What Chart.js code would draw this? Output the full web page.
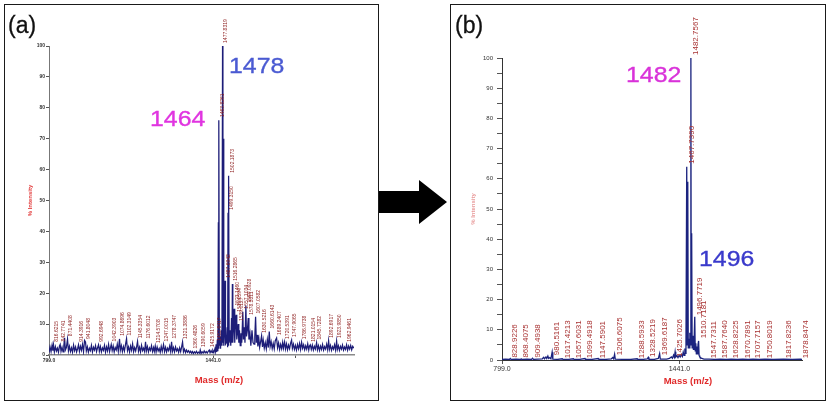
<!DOCTYPE html>
<html>
<head>
<meta charset="utf-8">
<script src="https://cdn.jsdelivr.net/npm/chart.js@4.4.1/dist/chart.umd.min.js"></script>
<style>
  body { margin: 0; background: #fff; width: 828px; height: 404px; position: relative; overflow: hidden;
         font-family: "Liberation Sans", Arial, sans-serif; }
  .panel { position: absolute; border: 1px solid #1a1a1a; box-sizing: border-box; }
  .panel canvas { position: absolute; left: 0; top: 0; }
  .tag { position: absolute; white-space: nowrap; font-size: 23px; line-height: 23px; color: #111; -webkit-text-stroke: 0.3px #111; }
  .big { position: absolute; white-space: nowrap; font-size: 22px; line-height: 22px; transform: scaleX(1.13); transform-origin: 0 0;
         -webkit-text-stroke: 0.35px currentColor; }
  .xtitle { position: absolute; width: 80px; text-align: center; font: bold 9.5px "Liberation Sans Narrow", "Liberation Sans", sans-serif;
            line-height: 12px; color: #e02a2a; }
</style>
</head>
<body>

<div class="panel" style="left:4px;top:4px;width:375px;height:397px;"><canvas id="chartA" width="373" height="395"></canvas></div>
<div class="panel" style="left:450px;top:4px;width:376px;height:397px;"><canvas id="chartB" width="374" height="395"></canvas></div>

<svg style="position:absolute;left:0;top:0" width="828" height="404">
  <polygon points="379,191 419,191 419,180 447,202 419,224 419,213 379,213" fill="#000"/>
</svg>

<div class="tag" style="left:8px;top:14px;">(a)</div>
<div class="tag" style="left:455px;top:14px;">(b)</div>

<div class="big" style="left:150px;top:108px;color:#e034e0;">1464</div>
<div class="big" style="left:229px;top:55px;color:#4a5ad2;">1478</div>
<div class="big" style="left:626px;top:64px;color:#d932d9;">1482</div>
<div class="big" style="left:699px;top:248px;color:#3a3acb;">1496</div>

<div class="xtitle" style="left:179px;top:374px;">Mass (m/z)</div>
<div class="xtitle" style="left:648px;top:375px;">Mass (m/z)</div>

<script>
// ---- spectrum (a): [m/z, % intensity]
const specA_low = [
  [799,0.8],[803,2.6],[807,1.1],[811,3.2],[814,1.4],[816.6215,3.3],[820,1.0],[824,2.7],[828,1.3],[832,2.2],
  [836,0.9],[840,2.9],[842.7741,3.4],[846,1.2],[850,2.5],[854,1.0],[857,3.0],[860,5.6],[863,1.6],[867,2.4],
  [871.4408,5.1],[875,1.3],[879,2.8],[883,1.1],[887,2.3],[891,0.9],[895,3.2],[899,1.4],[903,2.6],[907,1.0],
  [911,2.1],[914.3916,3.3],[918,1.2],[922,2.8],[926,1.5],[930,3.4],[934,1.1],[938,4.7],[941.8048,4.2],[945,1.3],
  [949,2.6],[953,0.9],[957,2.2],[961,1.4],[965,3.1],[969,1.0],[973,2.5],[977,1.6],[981,3.0],[985,1.1],
  [989,2.4],[992.6948,3.3],[996,1.2],[1000,2.7],[1004,1.0],[1008,2.3],[1012,1.5],[1016,3.1],[1020,0.9],[1024,2.6],
  [1028,1.3],[1032,3.4],[1036,1.1],[1039,2.2],[1042.3903,3.4],[1046,1.4],[1050,2.9],[1054,1.0],[1058,2.4],[1062,1.6],
  [1066,3.5],[1070,1.2],[1074.8696,5.2],[1078,1.5],[1082,3.0],[1086,1.1],[1090,2.7],[1094,1.3],[1098,3.3],[1102.3149,5.3],
  [1106,1.4],[1110,2.6],[1114,1.0],[1118,2.9],[1122,1.5],[1126,3.6],[1130,1.1],[1134,2.4],[1138,1.3],[1142,2.8],
  [1145.3354,4.4],[1149,1.2],[1153,2.5],[1157,1.0],[1161,3.1],[1165,1.4],[1169,2.2],[1173,1.1],[1176.6012,4.3],[1180,1.3],
  [1184,2.7],[1188,1.0],[1192,2.3],[1196,1.5],[1200,3.0],[1204,1.1],[1208,2.4],[1211,1.2],[1214.5708,2.9],[1218,1.0],
  [1222,2.6],[1226,1.3],[1230,2.1],[1234,0.9],[1238,2.8],[1242,1.2],[1247.0015,3.4],[1251,1.1],[1255,2.5],[1259,1.0],
  [1263,2.2],[1267,1.4],[1271,2.9],[1275,1.1],[1278.3747,4.3],[1282,1.2],[1286,2.4],[1290,1.0],[1294,2.6],[1298,1.3],
  [1302,2.0],[1306,0.9],[1310,2.3],[1314,1.1],[1318,2.7],[1321.3886,4.2],[1325,1.0],[1329,1.9],[1333,0.8],[1337,1.6],
  [1341,0.9],[1345,1.4],[1349,0.7],[1353,1.2],[1357,0.6],[1360.4826,1.1],[1364,0.5],[1368,1.0],[1372,0.6],[1376,1.2],
  [1380,0.5],[1384,0.9],[1388,0.6],[1390.6059,1.6],[1394,0.5],[1398,1.0],[1402,0.6],[1406,1.3],[1410,0.7],[1414,1.1],
  [1418,0.6],[1422,1.2],[1425.9172,1.6],[1429,0.7],[1433,1.4],[1437,0.8]
];
const specA_cluster = [
  [1440,1.5],[1444,0.8],[1448,2.0],[1450.5,1.1],[1452.6417,3.5],[1455,1.0],[1457.5,5.0],[1459.5,1.2],[1461.4527,43],[1462.6,2.0],
  [1463.8261,76],[1465.4,3.0],[1468,6.0],[1470,2.0],[1473,8.0],[1475.5,3.0],[1477.8319,100],[1479.3,4.0],[1480.9,70],[1482.6,3.0],
  [1485,7.0],[1487.6942,24],[1489.4,3.5],[1493,4],[1496,9],[1497.7,2.5],[1499.315,46],[1500.8,3],[1502.1873,58],[1503.7,4],
  [1507,8],[1510,3],[1513,12],[1514.7,4],[1516.2865,23],[1518,4],[1520.5,9],[1523.146,15],[1525.5,4],[1528,10],
  [1531.0594,13],[1533.5,5],[1536,7],[1539.0127,10],[1541.5,4],[1544,8],[1547,3],[1550,7],[1553,4],[1557.1034,14],
  [1559.5,5],[1562.5,9],[1565.5,4],[1569.0928,16],[1571.5,6],[1575,8],[1578.3311,12],[1581,5],[1585,7],[1588.5,3],
  [1593,8],[1597,4]
];
const specA_high = [
  [1601,3.5],[1604,6.0],[1607.0582,12.4],[1610,4.0],[1613,6.5],[1616,2.8],[1620,5.2],[1623,2.5],[1627,4.4],[1630.5216,6.2],
  [1634,2.6],[1637,4.8],[1641,2.2],[1645,4.0],[1649,2.0],[1653,5.0],[1657,2.4],[1660.6143,7.6],[1664,2.7],[1668,4.3],
  [1672,2.1],[1676,3.8],[1680,2.0],[1684,4.6],[1689.2407,5.5],[1693,2.3],[1697,3.9],[1701,1.8],[1705,3.4],[1709,2.0],
  [1713,4.1],[1716,2.2],[1720.5391,4.2],[1724,1.9],[1728,3.6],[1732,1.7],[1736,3.2],[1740,2.0],[1744,3.8],[1747.9065,4.8],
  [1751,2.1],[1755,3.5],[1759,1.8],[1763,3.1],[1767,1.6],[1771,3.4],[1775,2.0],[1779,3.7],[1783,1.8],[1786.9738,4.1],
  [1791,2.2],[1795,3.3],[1799,1.7],[1803,3.0],[1807,1.9],[1811,3.6],[1815,1.6],[1818,2.9],[1821.0154,3.3],[1825,1.8],
  [1829,3.2],[1833,1.6],[1837,2.8],[1841,1.9],[1845.7282,4.0],[1849,1.7],[1853,3.0],[1857,1.5],[1861,2.9],[1865,1.8],
  [1869,3.4],[1873,1.6],[1877,2.7],[1881,1.9],[1885,3.5],[1889,1.7],[1892.6917,4.6],[1896,1.8],[1900,3.1],[1904,1.5],
  [1908,2.7],[1912,1.9],[1916,3.3],[1920,1.6],[1923.985,4.5],[1927,1.8],[1931,3.0],[1935,1.5],[1939,2.8],[1943,1.9],
  [1947,3.2],[1951,1.6],[1955,2.6],[1959,1.8],[1962.9461,3.3],[1967,1.6],[1971,2.9],[1975,1.9],[1979,3.1],[1983,1.7],
  [1987,2.8],[1991,2.2]
];
// peak labels (a): m/z and the intensity where the label starts
const labelsA_mz = [816.6215,842.7741,871.4408,914.3916,941.8048,992.6948,1042.3903,1074.8696,1102.3149,1145.3354,
  1176.6012,1214.5708,1247.0015,1278.3747,1321.3886,1360.4826,1390.6059,1425.9172,1452.6417,1463.8261,1477.8319,
  1487.6942,1499.315,1502.1873,1516.2865,1523.146,1531.0594,1539.0127,1557.1034,1569.0928,1578.3311,
  1607.0582,1630.5216,1660.6143,1689.2407,1720.5391,1747.9065,1786.9738,1821.0154,1845.7282,1892.6917,1923.985,1962.9461];
const labelsA_base = [4.3,4.4,6.1,4.3,5.2,4.3,4.4,6.2,6.3,5.4,
  5.3,3.9,4.4,5.3,5.2,2.1,2.6,2.6,4.5,77,101,
  25,47,59,24,16,14,11,15,17,13,
  13.4,7.2,8.6,6.5,5.2,5.8,5.1,4.3,5.0,5.6,5.5,4.3];
const xTicksA = [799, 1441, 1762];
const xTickTextA = ['799.0', '1441.0', ''];

// ---- spectrum (b)
const specB = [
  [799,0.2],[812,0.3],[826,0.2],[828.9226,0.5],[832,0.2],[850,0.3],[866,0.2],[868.4075,0.4],[871,0.2],[890,0.3],
  [906,0.2],[909.4938,0.6],[913,0.2],[930,0.3],[945,0.4],[950,0.9],[953,0.4],[958,1.0],[961,0.5],[965,1.3],
  [968,0.5],[972,0.8],[976,0.4],[980.5161,2.6],[983,0.3],[1000,0.2],[1017.4213,0.4],[1020,0.2],[1040,0.2],[1057.6031,0.4],
  [1060,0.2],[1080,0.2],[1099.4918,0.5],[1102,0.2],[1125,0.2],[1147.5901,0.5],[1150,0.2],[1175,0.2],[1195,0.4],[1200,0.8],
  [1203,0.4],[1206.6075,1.9],[1209,0.3],[1240,0.2],[1265,0.2],[1288.5933,0.4],[1291,0.2],[1310,0.2],[1325,0.4],[1328.5219,0.9],
  [1331,0.2],[1350,0.2],[1365,0.5],[1369.6187,2.1],[1372,0.3],[1395,0.3],[1405,0.5],[1412,1.0],[1416,0.6],[1420,1.6],
  [1423,0.9],[1425.7026,2.7],[1428,1.0],[1432,1.4],[1436,0.8],[1440,1.5],[1444,1.0],[1448,1.8],[1452,1.2],[1455,2.6],
  [1458,1.5],[1461,3.8],[1463,2.2],[1465,6],[1467.739,64],[1469.3,5],[1471.5,59],[1473.2,4],[1475,7],[1477,4],
  [1479,9],[1481,5],[1482.7567,100],[1484,6],[1485.6,42],[1487.3,4],[1490,8],[1492,3.5],[1494,5],[1496.7719,14.3],
  [1498.5,3],[1500.5,5.5],[1502.5,2],[1504.5,4.5],[1506.5,2],[1508.5,5],[1510.7181,6.3],[1512.5,1.5],[1515,1],[1520,0.6],
  [1530,0.3],[1547.7311,0.3],[1570,0.2],[1587.764,0.3],[1610,0.2],[1628.8225,0.3],[1650,0.2],[1670.7891,0.3],[1690,0.2],[1707.7157,0.3],
  [1730,0.2],[1750.8019,0.3],[1780,0.2],[1817.8236,0.3],[1850,0.2],[1878.8474,0.3],[1885,0.2]
];
const labelsB_mz = [828.9226,868.4075,909.4938,980.5161,1017.4213,1057.6031,1099.4918,1147.5901,1206.6075,1288.5933,
  1328.5219,1369.6187,1425.7026,1467.739,1482.7567,1496.7719,1510.7181,1547.7311,1587.764,1628.8225,
  1670.7891,1707.7157,1750.8019,1817.8236,1878.8474];
const labelsB_base = [0.8,0.8,0.8,1.6,0.6,0.6,0.6,0.6,1.6,0.6,
  1.0,1.6,1.0,65,101,14.8,7.2,0.6,0.6,0.6,
  0.6,0.6,0.6,0.6,0.6];
const xTicksB = [799, 1441];
const xTickTextB = ['799.0', '1441.0'];

Chart.defaults.font.family = '"Liberation Sans", Arial, sans-serif';

const toPoints = arr => arr.map(p => ({ x: p[0], y: p[1] }));

// vertical m/z labels above the peaks
function peakLabels(mz, base, font, color, dx) {
  return {
    id: 'peakLabels',
    afterDatasetsDraw(chart) {
      const { ctx, scales: { x, y } } = chart;
      ctx.save();
      ctx.font = font;
      ctx.fillStyle = color;
      ctx.textBaseline = 'top';
      ctx.textAlign = 'left';
      mz.forEach((m, i) => {
        ctx.save();
        ctx.translate(x.getPixelForValue(m) + dx, y.getPixelForValue(base[i]));
        ctx.rotate(-Math.PI / 2);
        ctx.fillText(m.toFixed(4), 0, 0);
        ctx.restore();
      });
      ctx.restore();
    }
  };
}

function makeChart(id, cfg) {
  return new Chart(document.getElementById(id), {
    type: 'line',
    data: {
      datasets: [{
        data: toPoints(cfg.spec),
        borderColor: cfg.lineColor,
        borderWidth: cfg.lineW,
        pointRadius: 0,
        tension: 0,
        fill: false
      }]
    },
    options: {
      responsive: false,
      animation: false,
      layout: { padding: cfg.padding },
      plugins: { legend: { display: false }, tooltip: { enabled: false } },
      scales: {
        x: {
          type: 'linear', min: 799, max: cfg.xMax,
          afterFit: s => { s.height = cfg.xAxisH; },
          afterBuildTicks: s => { s.ticks = cfg.xTicks.map(v => ({ value: v })); },
          grid: { drawOnChartArea: false, drawTicks: true, tickLength: cfg.xTickLen, color: '#555' },
          border: { color: cfg.xBorder, width: cfg.xBorderW },
          ticks: {
            autoSkip: false, maxRotation: 0, padding: cfg.xTickPad,
            font: cfg.xTickFont, color: '#333',
            callback: v => cfg.xTickText[cfg.xTicks.indexOf(v)]
          }
        },
        y: {
          min: 0, max: 100,
          afterFit: s => { s.width = cfg.yAxisW; },
          grid: { drawOnChartArea: false, drawTicks: true, tickLength: cfg.yTickLen, color: '#555' },
          border: { color: cfg.yBorder, width: 1 },
          ticks: {
            stepSize: cfg.yStep, autoSkip: false, padding: cfg.yTickPad,
            font: cfg.yTickFont, color: '#333',
            callback: v => (v % 10 === 0 ? v : '')
          },
          title: {
            display: true, text: '% Intensity', color: cfg.yTitleColor,
            font: { size: 6, weight: 'bold' }, padding: { top: cfg.yTitlePad, bottom: 0 }
          }
        }
      }
    },
    plugins: [peakLabels(cfg.labMz, cfg.labBase, cfg.labFont, cfg.labColor, 1)]
  });
}

makeChart('chartA', {
  spec: specA_low.concat(specA_cluster, specA_high),
  lineColor: '#1d1d78', lineW: 1.25, xMax: 1992,
  padding: { left: 0, top: 41, right: 24, bottom: 0 },
  xAxisH: 45, yAxisW: 44,
  xTicks: xTicksA, xTickText: xTickTextA, xTickLen: 3, xTickPad: 0,
  xTickFont: { size: 5, weight: 'bold' }, xBorder: '#8a8a8a', xBorderW: 1.5,
  yStep: 10, yTickLen: 3, yTickPad: 1, yTickFont: { size: 5, weight: 'bold' }, yBorder: '#777',
  yTitleColor: '#e23b3b', yTitlePad: 21.4,
  labMz: labelsA_mz, labBase: labelsA_base, labFont: '5px "Liberation Sans", sans-serif', labColor: '#8e1f1f'
});

makeChart('chartB', {
  spec: specB,
  lineColor: '#1b237f', lineW: 1.3, xMax: 1885,
  padding: { left: 0, top: 53, right: 23, bottom: 0 },
  xAxisH: 40, yAxisW: 51,
  xTicks: xTicksB, xTickText: xTickTextB, xTickLen: 4, xTickPad: 1,
  xTickFont: { size: 7 }, xBorder: '#333', xBorderW: 1,
  yStep: 5, yTickLen: 5, yTickPad: 4, yTickFont: { size: 6 }, yBorder: '#333',
  yTitleColor: '#e89a9a', yTitlePad: 18.4,
  labMz: labelsB_mz, labBase: labelsB_base, labFont: '8px "Liberation Sans", sans-serif', labColor: '#a83232'
});
</script>
</body>
</html>
